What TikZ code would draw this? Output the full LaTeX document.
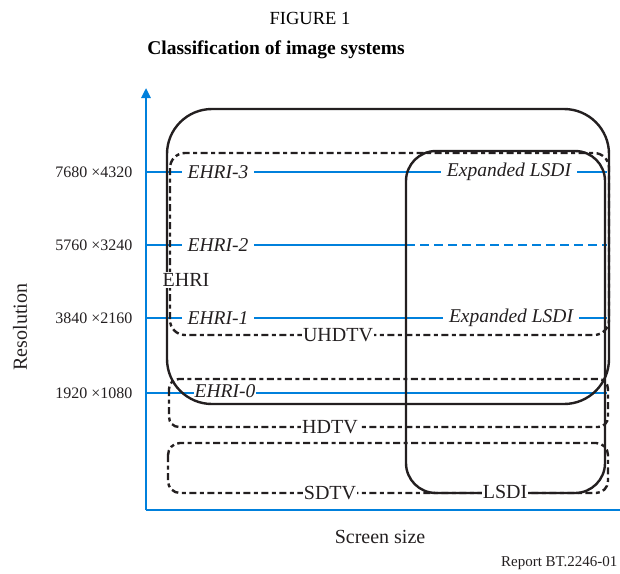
\documentclass[tikz,border=0pt]{standalone}
\usepackage{fontspec}
\setmainfont{Liberation Serif}
\usetikzlibrary{arrows.meta}
\definecolor{itublue}{RGB}{0,128,220}
\definecolor{ink}{RGB}{35,31,32}
\tikzset{
  axisline/.style={itublue, line width=2.4pt},
  resline/.style={itublue, line width=2.4pt},
  solidbox/.style={ink, line width=2.4pt},
  dashbox/.style={ink, line width=2.4pt, dash pattern=on 7pt off 3.5pt on 4pt off 3.5pt},
  onlabel/.style={fill=white, inner xsep=6pt, inner ysep=2pt, text=ink, font=\fontsize{19.5}{20}\selectfont\itshape},
  boxlabel/.style={fill=white, inner sep=1pt, text=ink, font=\fontsize{20}{22}\selectfont},
  reslabel/.style={anchor=east, text=ink, font=\fontsize{16}{18}\selectfont},
}
\begin{document}
\begin{tikzpicture}[x=1pt,y=-1pt]
      \useasboundingbox (0,0) rectangle (620,573);

      \node (title) at (310,18) {\fontsize{18.5}{20}\selectfont FIGURE 1};
      \node (subtitle) at (276,50) {\fontsize{19.5}{22}\selectfont\bfseries Classification of image systems};

      % axes
      \coordinate (origin) at (146,510);
      \coordinate (ytop) at (146,88);
      \coordinate (xend) at (620,510);
      \draw [axisline, -{Triangle[length=10pt,width=9pt]}] (origin) -- (ytop);
      \draw [axisline] (origin) -- (xend);
      \node [rotate=90, text=ink, font=\fontsize{20}{22}\selectfont] (yaxis) at (20,327) {Resolution};
      \node [text=ink, font=\fontsize{20}{22}\selectfont] (xaxis) at (380,537) {Screen size};
      \node [anchor=east, text=ink, font=\fontsize{15}{17}\selectfont] (report) at (621,563) {Report BT.2246-01};

      % resolution levels
      \foreach \y/\res in {172/7680 ×4320, 245/5760 ×3240, 318/3840 ×2160, 393/1920 ×1080} {
        \coordinate (l-\y) at (146,\y);
        \coordinate (r-\y) at (607,\y);
        \node [reslabel] at (136,\y) {\res};
      }
      \coordinate (m-245) at (406,245);
      \draw [resline] (l-172) -- (r-172);
      \draw [resline] (l-245) -- (m-245);
      \draw [resline, dash pattern=on 9pt off 5pt] (m-245) -- (r-245);
      \draw [resline] (l-318) -- (r-318);
      \draw [resline] (l-393) -- (r-393);

      \node [onlabel] (ehri3) at (218,172) {EHRI-3};
      \node [onlabel] (exp3) at (509,172) {Expanded LSDI};
      \node [onlabel] (ehri2) at (218,245) {EHRI-2};
      \node [onlabel] (ehri1) at (218,318) {EHRI-1};
      \node [onlabel] (exp1) at (511,318) {Expanded LSDI};
      \node [onlabel, inner xsep=1pt] (ehri0) at (225,391) {EHRI-0};

      % systems
      \draw [solidbox, rounded corners=45pt] (167,109) rectangle (609,404);
      \draw [dashbox, rounded corners=15pt] (170,153) rectangle (609,335);
      \draw [solidbox, rounded corners=30pt] (406,151) rectangle (605,493);
      \draw [dashbox, rounded corners=10pt] (169,379) rectangle (608,427);
      \draw [dashbox, rounded corners=12pt] (168,443) rectangle (608,493);

      \node [boxlabel] (ehri) at (186,280) {EHRI};
      \node [boxlabel] (uhdtv) at (338,335) {UHDTV};
      \node [boxlabel] (hdtv) at (330,427) {HDTV};
      \node [boxlabel] (sdtv) at (330,493) {SDTV};
      \node [boxlabel] (lsdi) at (505,492) {LSDI};
    \end{tikzpicture}
\end{document}
